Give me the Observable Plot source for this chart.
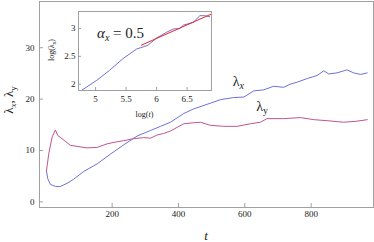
<!DOCTYPE html>
<html><head><meta charset="utf-8">
<script src="https://cdn.jsdelivr.net/npm/d3@7"></script>
<script src="https://cdn.jsdelivr.net/npm/@observablehq/plot@0.6"></script>
<style>
html,body{margin:0;padding:0;background:#fff;}
#wrap{position:relative;width:374px;height:242px;overflow:hidden;}
#wrap svg{position:absolute;overflow:visible;}
</style></head><body><div id="wrap"></div>
<script>
// main series: lambda_x
const tX = [2, 6, 14, 29, 44, 64, 84, 114, 155, 195, 235, 275, 316, 346, 376, 416, 446, 496, 527, 566, 597, 627, 657, 687, 717, 737, 758, 788, 818, 838, 853, 878, 908, 928, 949, 969];
const lamX = [6.0, 4.5, 3.4, 3.0, 3.0, 3.6, 4.4, 5.9, 7.4, 9.3, 11.1, 12.8, 13.9, 14.7, 15.5, 17.2, 18.1, 19.2, 19.9, 20.3, 20.4, 21.6, 21.8, 22.5, 22.3, 22.9, 23.3, 24.0, 24.6, 25.5, 24.9, 25.1, 25.7, 25.1, 24.8, 25.1];
// main series: lambda_y
const tY = [2, 9, 19, 29, 36, 49, 74, 94, 124, 155, 185, 215, 235, 265, 295, 316, 335, 355, 376, 416, 446, 466, 496, 536, 577, 617, 647, 667, 717, 768, 808, 848, 898, 938, 969];
const lamY = [6.0, 9.4, 12.6, 14.0, 12.9, 12.3, 11.0, 10.8, 10.5, 10.6, 11.3, 11.7, 11.9, 12.3, 12.5, 12.4, 13.0, 13.3, 13.8, 15.2, 15.4, 15.5, 14.9, 14.7, 14.7, 15.2, 15.5, 16.2, 16.2, 16.4, 16.0, 15.8, 15.5, 15.7, 16.0];
const xTicks = [200, 400, 600, 800];
const yTicks = [0, 10, 20, 30];
// inset: log-log
const logT = [4.77, 5.02, 5.23, 5.45, 5.67, 5.78, 5.86, 6.0, 6.16, 6.27, 6.38, 6.44, 6.60, 6.71, 6.79, 6.87];
const logLam = [1.89, 2.07, 2.25, 2.46, 2.63, 2.67, 2.70, 2.83, 2.93, 2.99, 3.0, 3.06, 3.11, 3.23, 3.23, 3.21];
const fitT = [5.75, 6.90];
const fitLam = [2.70, 3.26];
const insetXTicks = [5, 5.5, 6, 6.5];
const insetYTicks = [2, 2.5, 3];

const blue = "#7070d8", purple = "#bf5590", red = "#ee2222", frameC = "#a0a0a0", ink = "#222";
const font = "'Liberation Serif','Times New Roman',serif";
const wrap = document.getElementById("wrap");

const W = 374, H = 242, ML = 39, MR = 1, MT = 1, MB = 35;
const fw = W - ML - MR, fh = H - MT - MB;
const dX = tX.map((t, i) => ({t, v: lamX[i]}));
const dY = tY.map((t, i) => ({t, v: lamY[i]}));

const main = Plot.plot({
  width: W, height: H, marginLeft: ML, marginRight: MR, marginTop: MT, marginBottom: MB,
  style: {fontFamily: font, fontSize: "9px", background: "transparent", color: ink},
  x: {domain: [-19, 988]}, y: {domain: [-1.1, 39]},
  marks: [
    Plot.ruleX(xTicks, {stroke: frameC, insetTop: fh - 4}),
    Plot.ruleY(yTicks, {stroke: frameC, insetRight: fw - 4}),
    Plot.axisX({ticks: xTicks, tickSize: 0, tickPadding: 3, label: null, fill: ink}),
    Plot.axisY({ticks: yTicks, tickSize: 0, tickPadding: 5, label: null, fill: ink}),
    Plot.line(dX, {x: "t", y: "v", stroke: blue, strokeWidth: 1}),
    Plot.line(dY, {x: "t", y: "v", stroke: purple, strokeWidth: 1}),
    Plot.frame({stroke: frameC})
  ]
});
main.style.left = "0px"; main.style.top = "0px";
wrap.appendChild(main);

const sx = main.scale("x"), sy = main.scale("y");
const ms = d3.select(main);
// axis titles
ms.append("text").attr("x", (ML + W - MR) / 2).attr("y", 240).attr("text-anchor", "middle")
  .attr("font-style", "italic").attr("font-size", 13).attr("fill", ink).attr("font-family", font).text("t");
const yl = ms.append("text").attr("transform", "translate(13,100) rotate(-90)").attr("text-anchor", "middle")
  .attr("font-size", 13).attr("fill", ink).attr("font-family", font);
yl.append("tspan").text("λ");
yl.append("tspan").attr("font-size", 9).attr("dy", 3).attr("font-style", "italic").text("x");
yl.append("tspan").attr("dy", -3).text(", λ");
yl.append("tspan").attr("font-size", 9).attr("dy", 3).text("y");
// curve labels
const lx = ms.append("text").attr("x", sx.apply(565)).attr("y", sy.apply(22.4)).attr("text-anchor", "start")
  .attr("font-size", 14).attr("fill", ink).attr("font-family", font);
lx.append("tspan").text("λ");
lx.append("tspan").attr("font-size", 10).attr("dy", 3).attr("font-style", "italic").text("x");
const ly = ms.append("text").attr("x", sx.apply(636)).attr("y", sy.apply(17.5)).attr("text-anchor", "start")
  .attr("font-size", 14).attr("fill", ink).attr("font-family", font);
ly.append("tspan").text("λ");
ly.append("tspan").attr("font-size", 10).attr("dy", 3).text("y");

// inset
const IL = 30, IR = 4, IT = 3, IB = 30, IW = 133 + IL + IR, IH = 79 + IT + IB;
const iw = IW - IL - IR, ih = IH - IT - IB;
const dI = logT.map((t, i) => ({t, v: logLam[i]}));
const dF = fitT.map((t, i) => ({t, v: fitLam[i]}));
const inset = Plot.plot({
  width: IW, height: IH, marginLeft: IL, marginRight: IR, marginTop: IT, marginBottom: IB,
  style: {fontFamily: font, fontSize: "9px", background: "transparent", color: ink},
  x: {domain: [4.72, 6.90]}, y: {domain: [1.887, 3.305]},
  marks: [
    Plot.frame({fill: "white", stroke: frameC}),
    Plot.ruleX(insetXTicks, {stroke: frameC, insetTop: ih - 3}),
    Plot.ruleY(insetYTicks, {stroke: frameC, insetRight: iw - 3}),
    Plot.axisX({ticks: insetXTicks, tickSize: 0, tickPadding: 5, label: null, fill: ink, tickFormat: d => String(d)}),
    Plot.axisY({ticks: insetYTicks, tickSize: 0, tickPadding: 3, label: null, fill: ink, tickFormat: d => String(d)}),
    Plot.line(dI, {x: "t", y: "v", stroke: blue, strokeWidth: 1}),
    Plot.line(dF, {x: "t", y: "v", stroke: red, strokeWidth: 1}),
    Plot.frame({stroke: frameC})
  ]
});
inset.style.left = (78 - IL) + "px"; inset.style.top = (11 - IT) + "px";
wrap.appendChild(inset);
const is = d3.select(inset);
const ixl = is.append("text").attr("x", IL + iw / 2).attr("y", IH - 3).attr("text-anchor", "middle")
  .attr("font-size", 8).attr("fill", ink).attr("font-family", font);
ixl.append("tspan").text("log(");
ixl.append("tspan").attr("font-style", "italic").text("t");
ixl.append("tspan").text(")");
const iyl = is.append("text").attr("transform", `translate(${6},${IT + 39}) rotate(-90)`).attr("text-anchor", "middle")
  .attr("font-size", 8).attr("fill", ink).attr("font-family", font);
iyl.append("tspan").text("log(λ");
iyl.append("tspan").attr("font-size", 6).attr("dy", 2).attr("font-style", "italic").text("x");
iyl.append("tspan").attr("dy", -2).text(")");
const al = is.append("text").attr("x", 49).attr("y", 30).attr("text-anchor", "start")
  .attr("font-size", 15).attr("fill", ink).attr("font-family", font);
al.append("tspan").attr("font-style", "italic").text("α");
al.append("tspan").attr("font-size", 10).attr("dy", 3).attr("font-style", "italic").text("x");
al.append("tspan").attr("dy", -3).text(" = 0.5");
</script></body></html>
